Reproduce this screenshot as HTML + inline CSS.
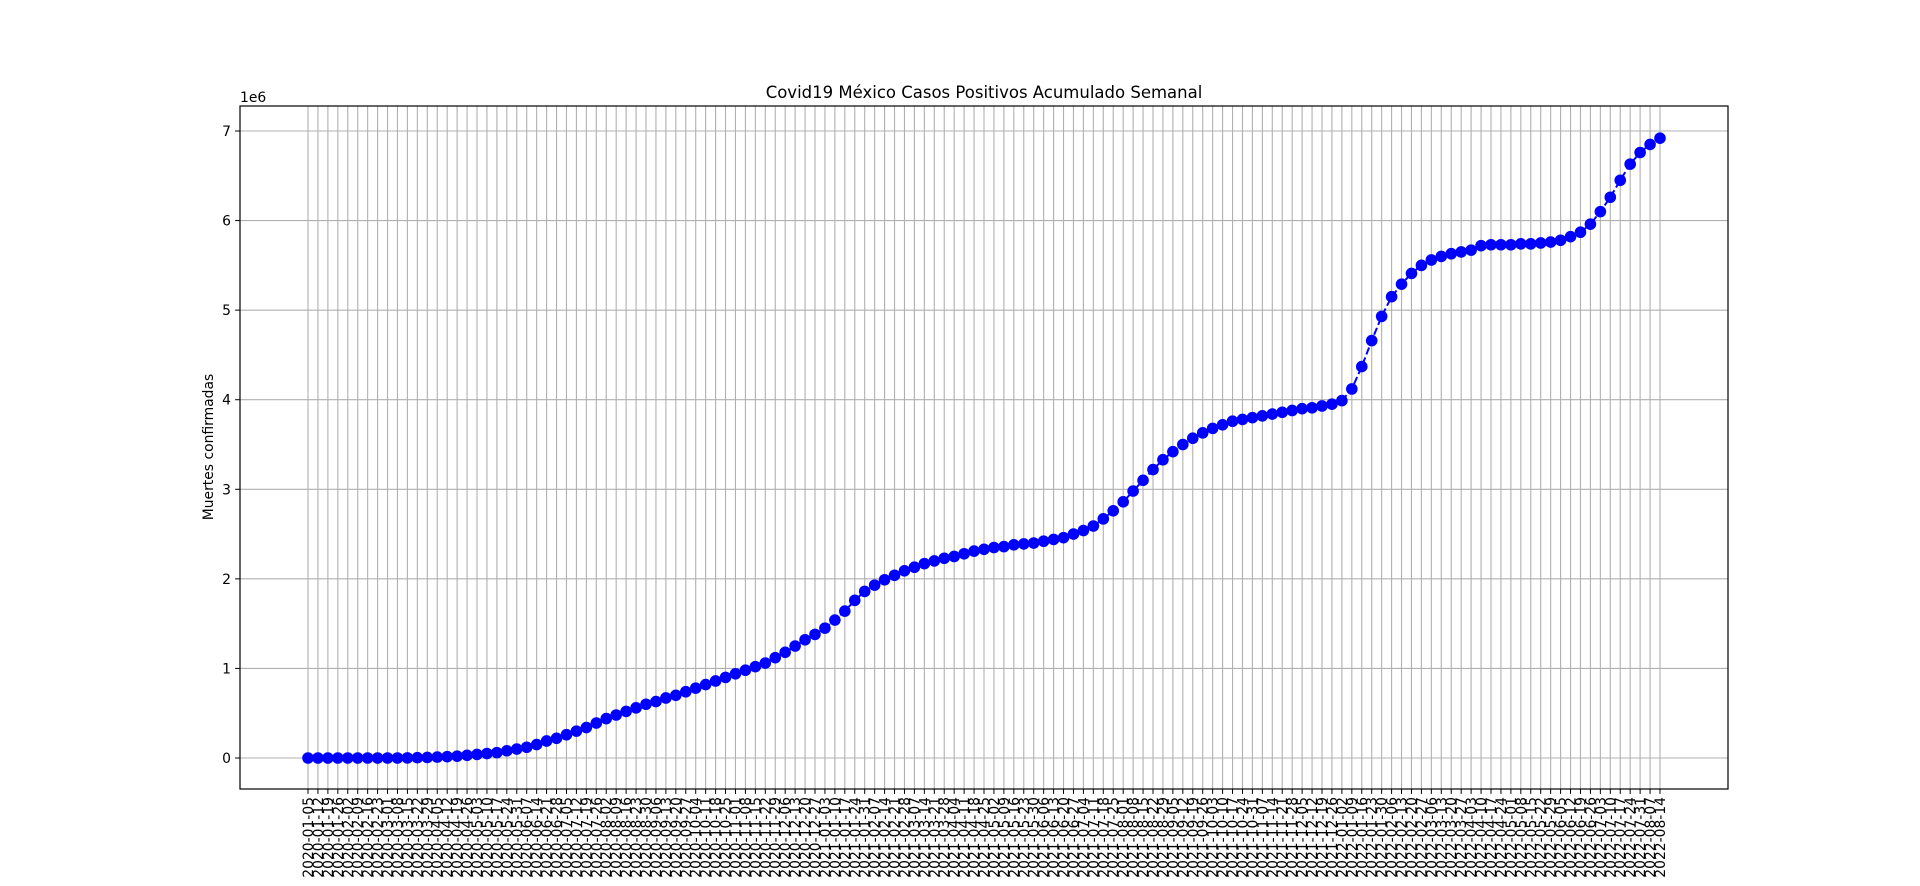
<!DOCTYPE html>
<html><head><meta charset="utf-8">
<style>
html,body{margin:0;padding:0;background:#fff;}
svg{display:block;font-family:"DejaVu Sans","Liberation Sans",sans-serif;}
</style></head>
<body>
<svg id="chart" width="1920" height="886" xmlns="http://www.w3.org/2000/svg">
<rect width="1920" height="886" fill="#fff"/>
<g id="grid"></g>
<g id="series"></g>
<rect x="240" y="106" width="1488" height="683" fill="none" stroke="#000" stroke-width="1.2"/>
<g id="xticks"></g>
<g id="yticks"></g>
<text x="984" y="98" text-anchor="middle" font-size="16.5">Covid19 México Casos Positivos Acumulado Semanal</text>
<text x="0" y="0" transform="translate(213,447) rotate(-90)" text-anchor="middle" font-size="13.9">Muertes confirmadas</text>
<text x="240" y="102" font-size="13.9">1e6</text>
</svg>
<script>
const startDate = "2020-01-05";
const values = [0,0,0,0,0,0,0,0,0,0,0.001,0.003,0.006,0.01,0.015,0.02,0.03,0.04,0.05,0.06,0.08,0.1,0.12,0.15,0.19,0.22,0.26,0.3,0.34,0.39,0.44,0.48,0.52,0.56,0.6,0.63,0.67,0.7,0.74,0.78,0.82,0.86,0.9,0.94,0.98,1.02,1.06,1.12,1.18,1.25,1.32,1.38,1.45,1.54,1.64,1.76,1.86,1.93,1.99,2.04,2.09,2.13,2.17,2.2,2.23,2.25,2.28,2.31,2.33,2.35,2.36,2.38,2.39,2.4,2.42,2.44,2.46,2.5,2.54,2.59,2.67,2.76,2.86,2.98,3.1,3.22,3.33,3.42,3.5,3.57,3.63,3.68,3.72,3.76,3.78,3.8,3.82,3.84,3.86,3.88,3.9,3.91,3.93,3.95,3.99,4.12,4.37,4.66,4.93,5.15,5.29,5.41,5.5,5.56,5.6,5.63,5.65,5.67,5.72,5.73,5.73,5.73,5.74,5.74,5.75,5.76,5.78,5.82,5.87,5.96,6.1,6.26,6.45,6.63,6.76,6.85,6.92];
const yTicks = [0,1,2,3,4,5,6,7];
const categories = [];
(function(){const d=new Date(startDate+"T00:00:00Z");for(let i=0;i<values.length;i++){const t=new Date(d.getTime()+i*7*86400000);categories.push(t.toISOString().slice(0,10));}})();

const NS="http://www.w3.org/2000/svg";
const X0=308, X1=1660, L=240, R=1728, T=106, B=789;
const xScale=i=>X0+(X1-X0)*i/(categories.length-1);
const yScale=v=>758-(758-131)*v/7;
function mk(tag,attrs,parent){const e=document.createElementNS(NS,tag);for(const k in attrs)e.setAttribute(k,attrs[k]);parent.appendChild(e);return e;}
const grid=document.getElementById('grid'),xt=document.getElementById('xticks'),yt=document.getElementById('yticks'),ser=document.getElementById('series');
categories.forEach((c,i)=>{
  const x=xScale(i);
  const gl=mk('line',{x1:x,x2:x,y1:T,y2:B,stroke:'#b0b0b0','stroke-width':1.1},grid);
  
  
  const tk=mk('line',{x1:x,x2:x,y1:B,y2:B+4.9,stroke:'#000','stroke-width':1},xt);
  
  
  const tx=mk('text',{x:0,y:0,transform:`translate(${x+5},${B+8}) rotate(-90)`,'text-anchor':'end','font-size':13.9},xt);
  tx.textContent=c;
  
  
});
yTicks.forEach(v=>{
  const y=yScale(v);
  const gl=mk('line',{x1:L,x2:R,y1:y,y2:y,stroke:'#b0b0b0','stroke-width':1.1},grid);
  
  
  const tk=mk('line',{x1:L-4.9,x2:L,y1:y,y2:y,stroke:'#000','stroke-width':1},yt);
  
  
  const tx=mk('text',{x:L-9,y:y+5,'text-anchor':'end','font-size':13.9},yt);
  tx.textContent=String(v);
  
  
});
const pts=values.map((v,i)=>xScale(i)+','+yScale(v)).join(' ');
const pl=mk('polyline',{points:pts,fill:'none',stroke:'#0000ff','stroke-width':2,'stroke-dasharray':'7.4,3.2'},ser);


values.forEach((v,i)=>{
  const c=mk('circle',{cx:xScale(i),cy:yScale(v),r:5.8,fill:'#0000ff'},ser);
  
  
});
</script>
</body></html>
